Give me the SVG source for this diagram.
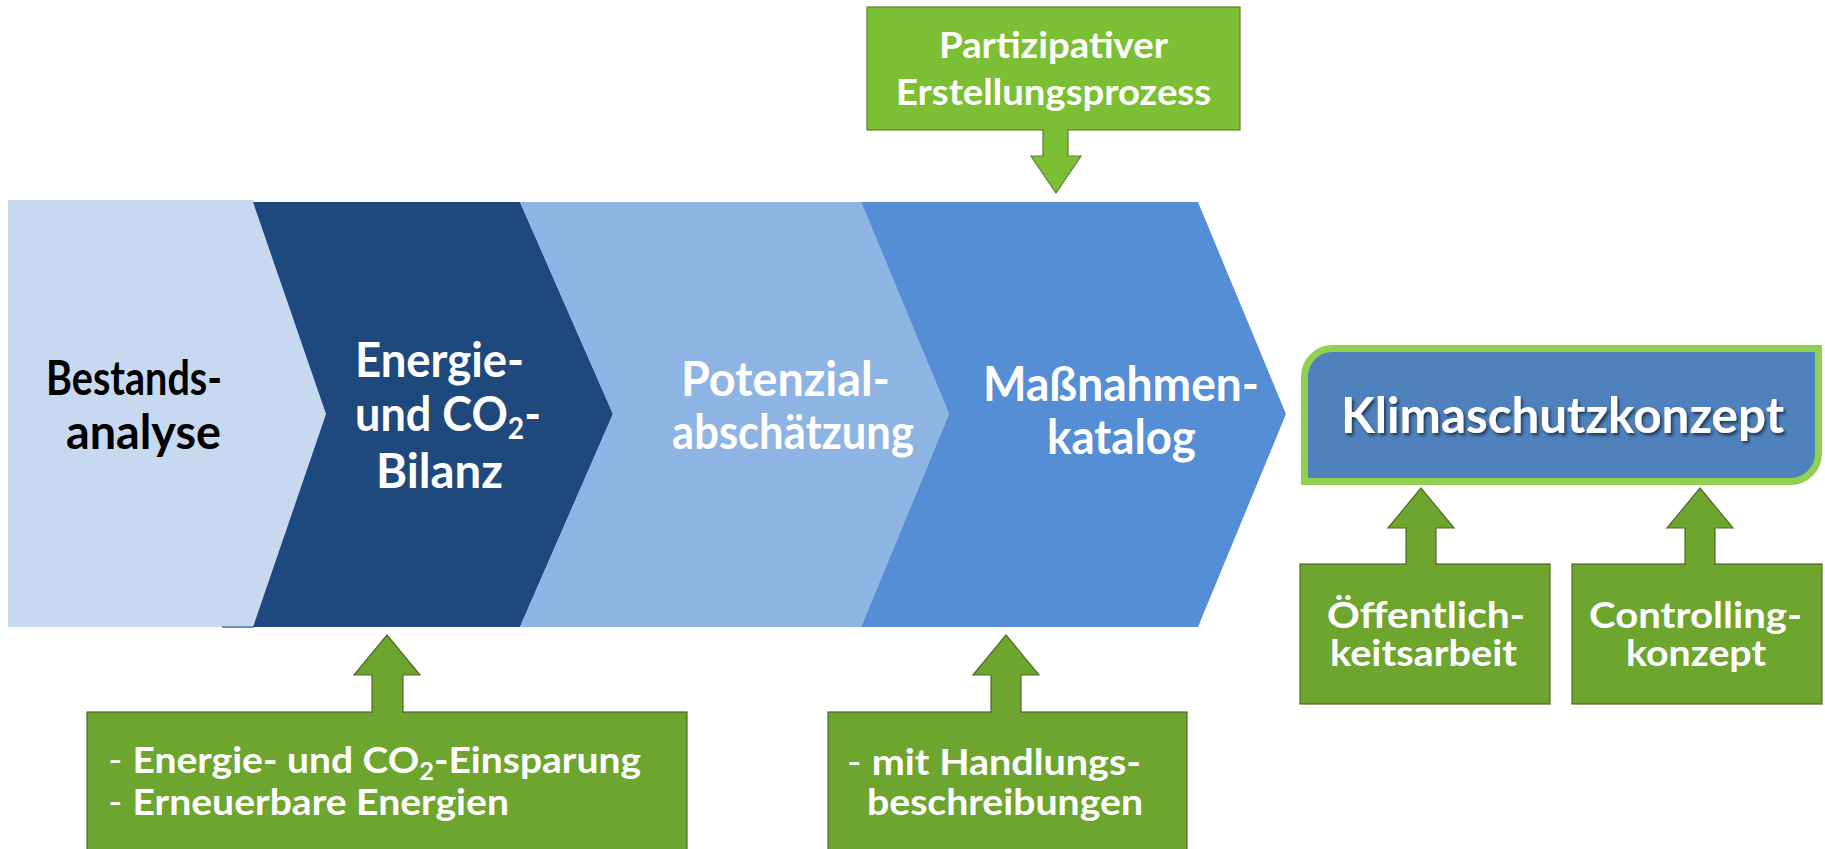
<svg xmlns="http://www.w3.org/2000/svg" width="1825" height="849" viewBox="0 0 1825 849">
<defs>
<style>
.t{font-family:Lato,"Open Sans","Liberation Sans",sans-serif;font-weight:bold;}
.w{fill:#ffffff;}
.k{fill:#000000;}
.cb{font-size:48px;}
.gb{font-size:37px;}
.gl{fill:#7dbf34;stroke:#5f7f30;stroke-width:1.2;}
.gd{fill:#6da52f;stroke:#4f6a28;stroke-width:1.2;}
</style>
<filter id="sh" x="-10%" y="-30%" width="120%" height="160%">
<feDropShadow dx="2" dy="2.5" stdDeviation="1.5" flood-color="#000" flood-opacity="0.55"/>
</filter>
</defs>
<rect width="1825" height="849" fill="#ffffff"/>

<g id="chevron-bestandsanalyse">
<path d="M8,200 L253,200 L326,414 L253,627 L8,627 Z" fill="#c6d9f1"/>
<line x1="222" y1="627" x2="254" y2="627" stroke="#6f8fb8" stroke-width="2"/>
<text class="t k cb" x="46" y="395" textLength="176" lengthAdjust="spacingAndGlyphs">Bestands-</text>
<text class="t k cb" x="66" y="449" textLength="155" lengthAdjust="spacingAndGlyphs">analyse</text>
</g>
<g id="chevron-bilanz">
<path d="M253,202 L520,202 L613,414 L520,627 L253,627 L326,414 Z" fill="#1f497d"/>
<text class="t w cb" x="355" y="377" textLength="169" lengthAdjust="spacingAndGlyphs">Energie-</text>
<text class="t w cb" x="355" y="431" textLength="186" lengthAdjust="spacingAndGlyphs">und CO<tspan font-size="30" dy="8">2</tspan><tspan dy="-8">-</tspan></text>
<text class="t w cb" x="376" y="488" textLength="127" lengthAdjust="spacingAndGlyphs">Bilanz</text>
</g>
<g id="chevron-potenzial">
<path d="M520,202 L861,202 L949,414 L861,627 L520,627 L613,414 Z" fill="#8eb4e3"/>
<text class="t w cb" x="681" y="396" textLength="209" lengthAdjust="spacingAndGlyphs">Potenzial-</text>
<text class="t w cb" x="672" y="449" textLength="242" lengthAdjust="spacingAndGlyphs">abschätzung</text>
</g>
<g id="chevron-massnahmen">
<path d="M861,202 L1198,202 L1286,414 L1198,627 L861,627 L949,414 Z" fill="#558ed5"/>
<text class="t w cb" x="983" y="401" textLength="276" lengthAdjust="spacingAndGlyphs">Maßnahmen-</text>
<text class="t w cb" x="1047" y="454" textLength="149" lengthAdjust="spacingAndGlyphs">katalog</text>
</g>

<g id="klimaschutzkonzept">
<path d="M1304.5,376.5 A28,28 0 0 1 1332.5,348.5 L1818.5,348.5 L1818.5,453.5 A28,28 0 0 1 1790.5,481.5 L1304.5,481.5 Z" fill="#4f81bd" stroke="#92d050" stroke-width="7"/>
<text class="t w" font-size="50" x="1341" y="433" textLength="443" lengthAdjust="spacingAndGlyphs" filter="url(#sh)">Klimaschutzkonzept</text>
</g>

<g id="partizipativer">
<rect class="gl" x="867" y="7" width="373" height="123"/>
<text class="t w" font-size="36" x="939" y="58" textLength="229" lengthAdjust="spacingAndGlyphs">Partizipativer</text>
<text class="t w" font-size="36" x="896" y="105" textLength="315" lengthAdjust="spacingAndGlyphs">Erstellungsprozess</text>
</g>

<g id="einsparung">
<rect class="gd" x="87" y="712" width="600" height="160"/>
<text class="t w gb" x="108" y="773" textLength="533" lengthAdjust="spacingAndGlyphs"><tspan font-weight="normal">- </tspan>Energie- und CO<tspan font-size="24" dy="7">2</tspan><tspan dy="-7">-Einsparung</tspan></text>
<text class="t w gb" x="108" y="815" textLength="401" lengthAdjust="spacingAndGlyphs"><tspan font-weight="normal">- </tspan>Erneuerbare Energien</text>
</g>

<g id="handlung">
<rect class="gd" x="828" y="712" width="359" height="160"/>
<text class="t w gb" x="847" y="775" textLength="294" lengthAdjust="spacingAndGlyphs"><tspan font-weight="normal">- </tspan>mit Handlungs-</text>
<text class="t w gb" x="867" y="815" textLength="276" lengthAdjust="spacingAndGlyphs">beschreibungen</text>
</g>

<g id="oeffentlichkeit">
<rect class="gd" x="1300" y="564" width="250" height="140"/>
<text class="t w gb" x="1327" y="628" textLength="198" lengthAdjust="spacingAndGlyphs">Öffentlich-</text>
<text class="t w gb" x="1330" y="666" textLength="187" lengthAdjust="spacingAndGlyphs">keitsarbeit</text>
</g>

<g id="controlling">
<rect class="gd" x="1572" y="564" width="250" height="140"/>
<text class="t w gb" x="1589" y="628" textLength="213" lengthAdjust="spacingAndGlyphs">Controlling-</text>
<text class="t w gb" x="1626" y="666" textLength="140" lengthAdjust="spacingAndGlyphs">konzept</text>
</g>

<g id="connectors">
<path class="gl" d="M1043,129 L1043,156 L1031,156 L1056,193 L1081,156 L1068,156 L1068,129"/>
<path class="gd" d="M372,713 L372,675 L354,675 L387,635 L420,675 L403,675 L403,713"/>
<path class="gd" d="M991,713 L991,675 L973,675 L1006,635 L1039,675 L1021,675 L1021,713"/>
<path class="gd" d="M1406,565 L1406,528 L1388,528 L1421,488 L1454,528 L1436,528 L1436,565"/>
<path class="gd" d="M1685,565 L1685,528 L1667,528 L1700,488 L1733,528 L1715,528 L1715,565"/>
</g>
</svg>
